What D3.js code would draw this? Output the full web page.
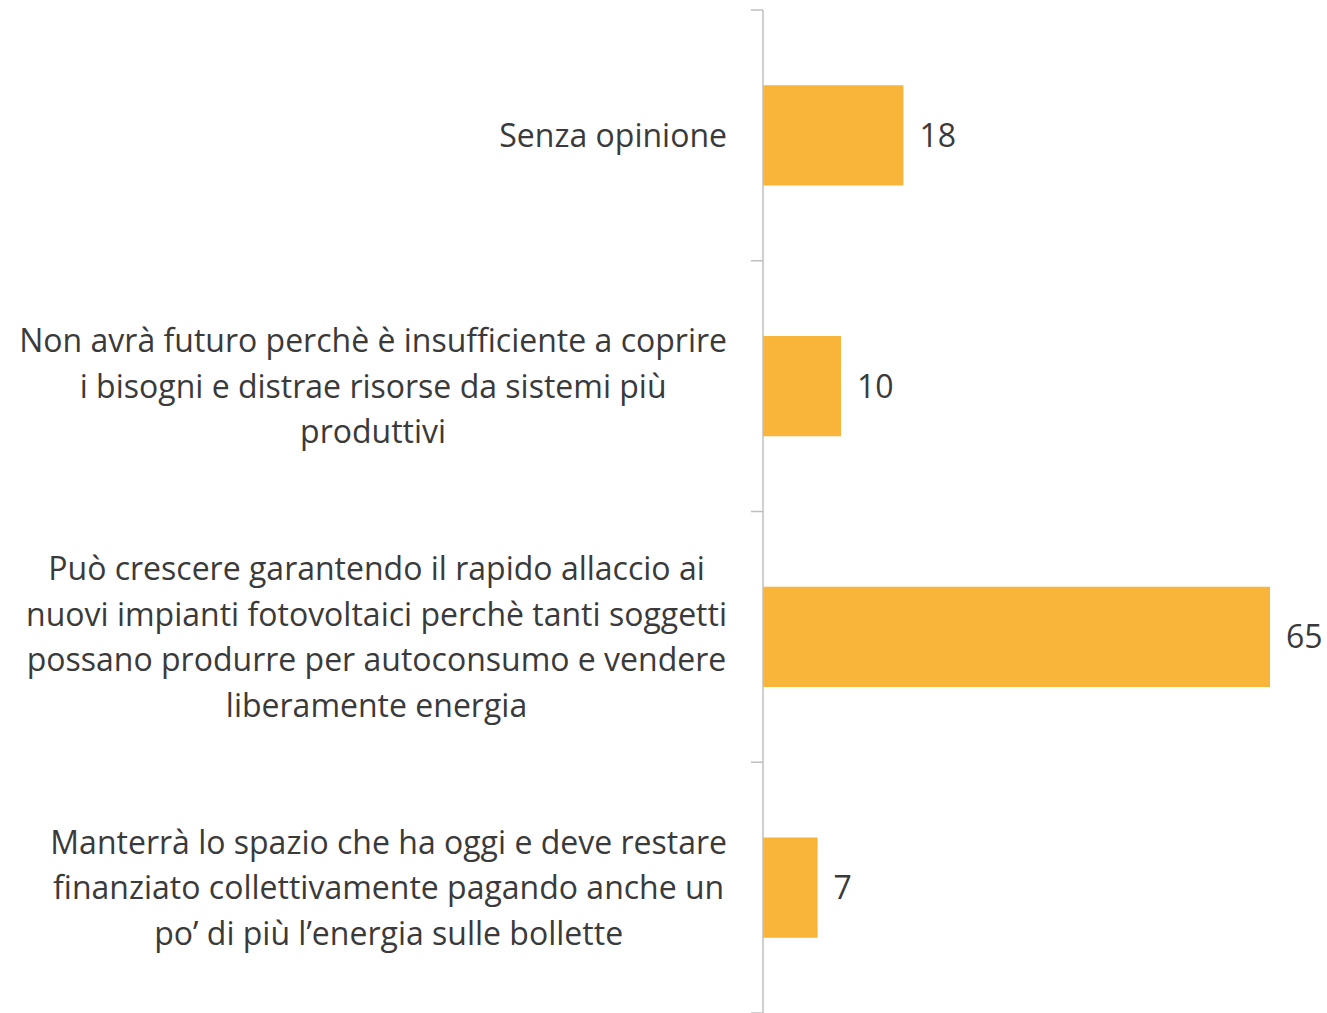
<!DOCTYPE html>
<html>
<head>
<meta charset="utf-8">
<script src="https://cdn.jsdelivr.net/npm/d3@7"></script>
<style>
  body { margin: 0; background: #fff; }
  text { font-family: "Open Sans", sans-serif; fill: #3a3a3a; }
</style>
</head>
<body>
<script>
var width  = 1327,
    height = 1013;

// categories, top to bottom, each one split into its lines
var categories = [
  ["Senza opinione"],
  ["Non avrà futuro perchè è insufficiente a coprire",
   "i bisogni e distrae risorse da sistemi più",
   "produttivi"],
  ["Può crescere garantendo il rapido allaccio ai",
   "nuovi impianti fotovoltaici perchè tanti soggetti",
   "possano produrre per autoconsumo e vendere",
   "liberamente energia"],
  ["Manterrà lo spazio che ha oggi e deve restare",
   "finanziato collettivamente pagando anche un",
   "po’ di più l’energia sulle bollette"]
];
var values = [18, 10, 65, 7];

var data = [];
for (var i = 0; i < values.length; i++) {
  data.push({ key: i, lines: categories[i], value: values[i] });
}

var svg = d3.select("body").append("svg")
    .attr("width", width)
    .attr("height", height);

var y = d3.scaleBand()
    .domain(data.map(function(d) { return d.key; }))
    .range([10, 1013])
    .paddingInner(0.6)
    .paddingOuter(0.3);

var x = d3.scaleLinear()
    .domain([0, 70])
    .range([763, 1309]);

// bars
svg.selectAll("rect.bar")
  .data(data)
  .enter().append("rect")
    .attr("class", "bar")
    .attr("x", x(0))
    .attr("y", function(d) { return y(d.key); })
    .attr("width", function(d) { return x(d.value) - x(0); })
    .attr("height", y.bandwidth())
    .attr("fill", "#f9b53a");

// value labels
svg.selectAll("text.val")
  .data(data)
  .enter().append("text")
    .attr("class", "val")
    .attr("x", function(d) { return x(d.value) + 16; })
    .attr("y", function(d) { return y(d.key) + y.bandwidth() / 2; })
    .attr("dy", "0.36em")
    .attr("font-size", 32)
    .text(function(d) { return d.value; });

// axis line + ticks between categories
var r = y.range();
svg.append("line")
    .attr("x1", x(0)).attr("x2", x(0))
    .attr("y1", r[0]).attr("y2", r[1])
    .attr("stroke", "#bfbfbf")
    .attr("stroke-width", 1.5);

var bounds = d3.range(data.length + 1).map(function(k) { return r[0] + k * y.step(); });
svg.selectAll("line.tick")
  .data(bounds)
  .enter().append("line")
    .attr("class", "tick")
    .attr("x1", x(0) - 12).attr("x2", x(0))
    .attr("y1", function(d) { return d; })
    .attr("y2", function(d) { return d; })
    .attr("stroke", "#bfbfbf")
    .attr("stroke-width", 1.5);

// category labels: block right-aligned at the axis, lines centred in it
var lineH = 45.5,
    fontSize = 32,
    rightEdge = 727;

var groups = svg.selectAll("g.lab")
  .data(data)
  .enter().append("g")
    .attr("class", "lab");

groups.each(function(d) {
  var g = d3.select(this);
  var cy = y(d.key) + y.bandwidth() / 2;
  var top = cy - (d.lines.length - 1) * lineH / 2;
  var texts = g.selectAll("text")
    .data(d.lines)
    .enter().append("text")
      .attr("y", function(l, j) { return top + j * lineH; })
      .attr("dy", "0.36em")
      .attr("font-size", fontSize)
      .attr("text-anchor", "middle")
      .text(function(l) { return l; });
  var maxW = 0;
  texts.each(function() { maxW = Math.max(maxW, this.getComputedTextLength()); });
  texts.attr("x", rightEdge - maxW / 2);
});
</script>
</body>
</html>
